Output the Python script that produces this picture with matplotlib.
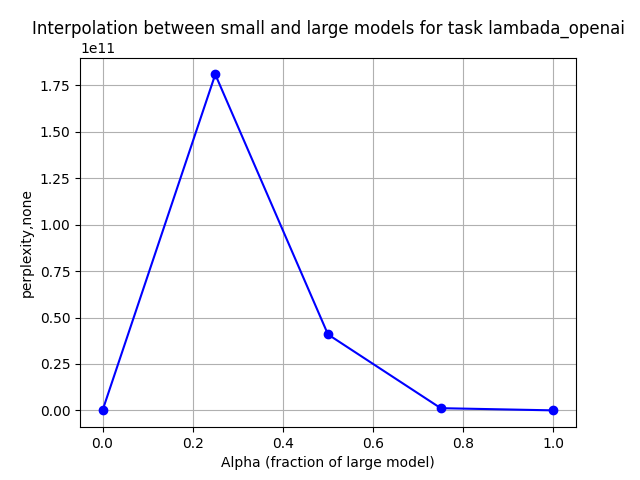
import matplotlib
matplotlib.use("Agg")
import matplotlib.pyplot as plt

alphas = [0.0, 0.25, 0.5, 0.75, 1.0]
perplexity = [3.5e6, 1.809e11, 4.09e10, 1.2e9, 2.0e7]
task = "lambada_openai"

fig, ax = plt.subplots(figsize=(6.4, 4.8), dpi=100)
ax.plot(alphas, perplexity, marker="o", color="blue")
ax.set_title("Interpolation between small and large models for task " + task)
ax.set_xlabel("Alpha (fraction of large model)")
ax.set_ylabel("perplexity,none")
ax.grid(True)

fig.savefig("out.png")
